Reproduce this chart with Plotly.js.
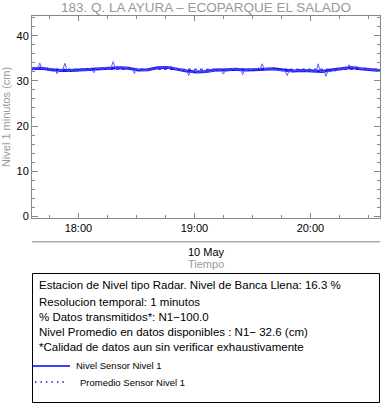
<!DOCTYPE html>
<html><head><meta charset="utf-8">
<script src="https://cdn.plot.ly/plotly-3.0.1.min.js"></script>
<style>html,body{margin:0;padding:0;background:#fff}#c{width:382px;height:404px}</style>
</head><body><div id="c"></div>
<script>
// 1-minute raw level readings, 17:36 .. 20:36 on 10 May
const startTime = "2024-05-10 17:36";
const rawLevel = [
32.9,32.5,33.1,32.6,34.0,32.7,33.0,32.5,32.9,32.6,
32.3,32.8,32.4,31.6,32.5,32.2,32.6,33.9,32.4,32.1,
32.5,32.2,32.6,32.3,32.1,32.5,32.3,32.6,32.2,32.4,
32.8,32.4,31.8,32.7,32.9,32.5,32.8,32.6,33.0,32.7,
32.6,33.1,34.3,32.9,32.6,33.0,32.7,33.2,32.8,33.0,
32.6,33.0,32.7,31.6,32.9,32.4,32.6,32.2,32.5,32.3,
32.6,32.3,32.7,32.5,32.9,32.7,33.0,32.8,33.2,32.9,
33.1,32.8,33.3,32.9,32.7,32.5,32.8,32.4,32.6,32.3,
32.4,31.2,32.1,31.9,32.3,32.0,31.8,32.2,31.9,32.1,
31.9,32.3,32.0,32.2,32.5,32.3,32.1,32.6,32.3,31.5,
32.4,32.7,32.3,32.5,32.8,32.6,32.4,32.7,32.5,31.4,
32.5,32.3,32.7,32.4,32.6,32.8,32.5,32.9,32.6,33.8,
32.8,32.5,32.9,32.6,32.7,32.4,32.6,32.3,32.5,32.2,
32.4,32.1,31.2,32.3,32.0,32.4,32.2,32.5,32.1,32.4,
32.2,32.5,32.1,32.4,32.2,32.0,32.3,32.1,33.8,32.2,
32.0,32.3,31.0,32.2,32.0,32.3,32.5,32.2,32.4,32.6,
32.8,32.6,32.9,32.7,33.6,32.9,33.1,32.8,33.2,32.9,
32.8,32.6,32.9,32.5,32.7,32.4,32.6,32.5,32.3,32.6,
32.3];
// 5-minute smoothed level (thick trace)
const smoothLevel = [
32.7,32.8,32.5,32.3,32.3,32.4,32.6,32.7,32.8,32.9,
32.8,32.4,32.5,32.9,33.0,32.6,32.2,32.0,32.1,32.4,
32.4,32.6,32.4,32.5,32.6,32.7,32.4,32.2,32.3,32.2,
32.1,32.4,32.7,33.0,32.7,32.5,32.3];
const meanLevel = 32.6;
const titleText = "183. Q. LA AYURA \u2013 ECOPARQUE EL SALADO";
const yTitle = "Nivel 1 minutos (cm)";
const dateLabel = "10 May";
const xTitle = "Tiempo";
const infoLines = [
 "Estacion de Nivel tipo Radar. Nivel de Banca Llena: 16.3 %",
 "Resolucion temporal: 1 minutos",
 "% Datos transmitidos*: N1\u2212100.0",
 "Nivel Promedio en datos disponibles : N1\u2212 32.6 (cm)",
 "*Calidad de datos aun sin verificar exhaustivamente"];
const legendLabels = ["Nivel Sensor Nivel 1", "Promedio Sensor Nivel 1"];

function tAt(minutes){
  const d = new Date(2024,4,10,17,36);
  d.setMinutes(d.getMinutes()+minutes);
  const p=n=>String(n).padStart(2,'0');
  return `2024-05-10 ${p(d.getHours())}:${p(d.getMinutes())}`;
}
const xRaw = rawLevel.map((_,i)=>tAt(i));
const xSmooth = smoothLevel.map((_,i)=>tAt(i*5));
const xEnd = tAt(rawLevel.length-1);

const H=404, plotTop=16, plotBottom=218, ph=plotBottom-plotTop;
const L=32, R=380, pw=R-L;
const py = y => (plotBottom - y)/ph;
const pxx = x => (x - L)/pw;
const F = "Liberation Sans, Arial, Helvetica, sans-serif";

const traces = [
 {x:[startTime, xEnd], y:[meanLevel, meanLevel], type:'scatter', mode:'lines', line:{color:'blue', width:1, dash:'dot'}, hoverinfo:'skip'},
 {x:xSmooth, y:smoothLevel, type:'scatter', mode:'lines', line:{color:'rgb(25,25,240)', width:3}, hoverinfo:'skip'},
 {x:xRaw, y:rawLevel, type:'scatter', mode:'lines', line:{color:'rgb(95,95,255)', width:1}, hoverinfo:'skip'}
];

const annotations = [
 {text:dateLabel, xref:'paper', yref:'paper', x:pxx(206), y:py(252), showarrow:false, font:{family:F,size:11,color:'#000'}, xanchor:'center', yanchor:'middle'},
 {text:xTitle, xref:'paper', yref:'paper', x:pxx(206), y:py(264), showarrow:false, font:{family:F,size:11,color:'#999'}, xanchor:'center', yanchor:'middle'}
];
const lineYs=[285,301.5,316.8,332.3,347.3];
infoLines.forEach((t,i)=>annotations.push({text:t, xref:'paper', yref:'paper', x:pxx(37), y:py(lineYs[i]), showarrow:false, xanchor:'left', yanchor:'middle', font:{family:F,size:11.5,color:'#000'}}));
annotations.push({text:legendLabels[0], xref:'paper', yref:'paper', x:pxx(74), y:py(365), showarrow:false, xanchor:'left', yanchor:'middle', font:{family:F,size:9.5,color:'#000'}});
annotations.push({text:legendLabels[1], xref:'paper', yref:'paper', x:pxx(78), y:py(382), showarrow:false, xanchor:'left', yanchor:'middle', font:{family:F,size:9.5,color:'#000'}});

const shapes = [
 {type:'line', xref:'paper', yref:'paper', x0:0, x1:1, y0:py(241.7), y1:py(241.7), line:{color:'#aaa', width:1.5}},
 {type:'rect', xref:'paper', yref:'paper', x0:pxx(32.5), x1:pxx(379.5), y0:py(273.5), y1:py(402.5), line:{color:'#000', width:1}},
 {type:'line', xref:'paper', yref:'paper', x0:pxx(33), x1:pxx(70), y0:py(366), y1:py(366), line:{color:'rgb(0,0,255)', width:1.3}},
 {type:'line', xref:'paper', yref:'paper', x0:pxx(35), x1:pxx(68), y0:py(382), y1:py(382), line:{color:'rgb(0,0,255)', width:1.3, dash:'1.3px,4.2px'}}
];

const layout = {
 width:382, height:404, showlegend:false,
 margin:{l:L, r:382-R, t:plotTop, b:H-plotBottom, pad:0},
 paper_bgcolor:'#fff', plot_bgcolor:'#fff',
 title:{text:titleText, font:{family:F, size:13.5, color:'#999'}, x:pxx(206), xref:'paper', xanchor:'center', y:1-7/H, yanchor:'middle'},
 xaxis:{type:'date', range:[startTime, xEnd], tickformat:'%H:%M', dtick:3600000, tick0:'2024-05-10 18:00',
   ticks:'inside', ticklen:5, tickcolor:'#888', showline:true, linecolor:'#888', linewidth:1, mirror:'ticks',
   showgrid:false, zeroline:false, tickfont:{family:F, size:11, color:'#000'},
   minor:{dtick:900000, ticks:'inside', ticklen:3, tickcolor:'#888', showgrid:false}},
 yaxis:{range:[-0.4, 44.4], dtick:10, ticks:'inside', ticklen:6, tickcolor:'#888', showline:true, linecolor:'#888', linewidth:1, mirror:'ticks',
   showgrid:false, zeroline:false, tickfont:{family:F, size:11, color:'#000'},
   minor:{dtick:2, ticks:'inside', ticklen:3, tickcolor:'#888', showgrid:false},
   title:{text:yTitle, font:{family:F, size:11, color:'#999'}, standoff:4}},
 annotations, shapes
};
Plotly.newPlot('c', traces, layout, {staticPlot:true, displayModeBar:false});
</script></body></html>
